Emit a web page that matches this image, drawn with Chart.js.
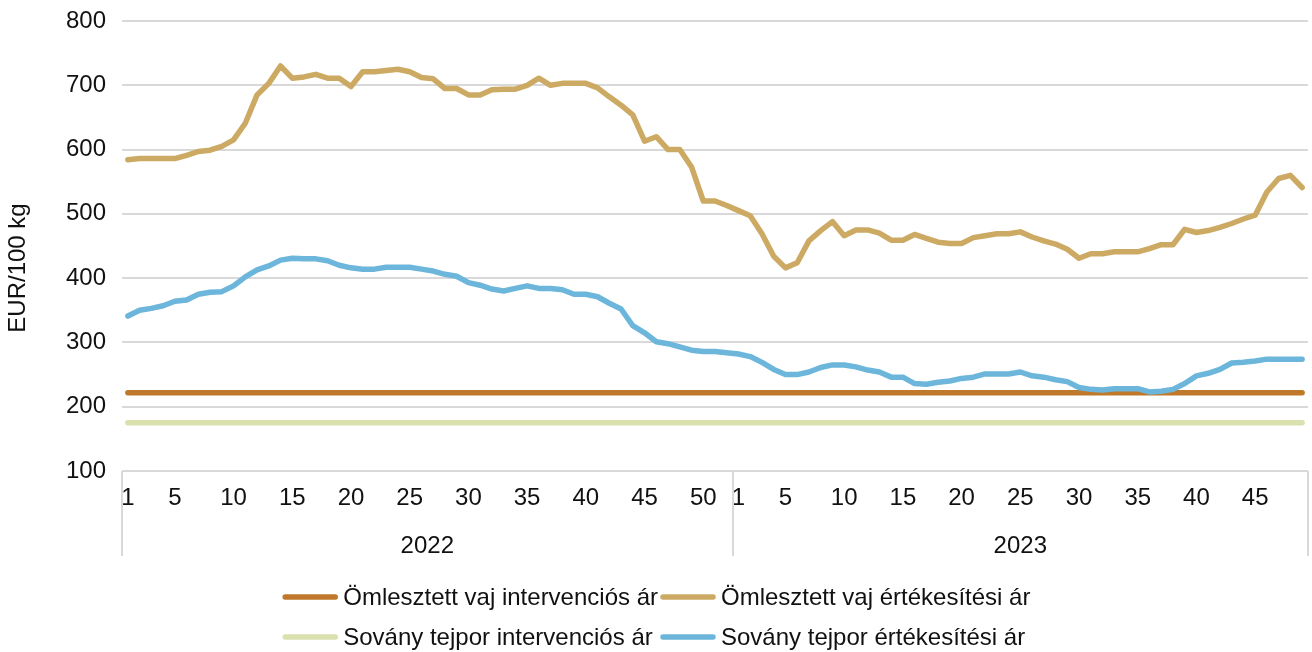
<!DOCTYPE html>
<html>
<head>
<meta charset="utf-8">
<script src="https://cdn.jsdelivr.net/npm/chart.js@4.4.1/dist/chart.umd.min.js"></script>
<style>
  html, body { margin: 0; background: #fff; }
  #wrap { width: 1312px; height: 652px; }
</style>
</head>
<body>
<div id="wrap"><canvas id="chart" width="1312" height="652"></canvas></div>
<script>
// week numbers per year (x axis groups)
const years = ["2022", "2023"];
const weeks2022 = Array.from({ length: 52 }, (_, i) => i + 1);
const weeks2023 = Array.from({ length: 49 }, (_, i) => i + 1);

// EUR/100 kg
const butterSales2022 = [584, 586, 586, 586, 586, 591, 597, 599, 605, 615,
  641, 685, 703, 730, 711, 713, 717, 711, 711, 698,
  721, 721, 723, 725, 721, 712, 710, 695, 695, 685,
  685, 693, 694, 694, 700, 711, 700, 703, 703, 703,
  696, 682, 669, 654, 613, 620, 600, 600, 573, 520,
  520, 513];
const butterSales2023 = [505, 497, 469, 434, 416, 424, 458, 474, 488, 466,
  475, 475, 470, 459, 459, 468, 462, 456, 454, 454,
  463, 466, 469, 469, 472, 464, 458, 453, 445, 431,
  438, 438, 441, 441, 441, 446, 452, 452, 476, 471,
  474, 479, 485, 492, 498, 534, 555, 560, 541];
const smpSales2022 = [341, 350, 353, 357, 364, 366, 375, 378, 379, 388,
  402, 413, 419, 428, 431, 430, 430, 427, 420, 416,
  414, 414, 417, 417, 417, 414, 411, 406, 403, 393,
  389, 383, 380, 384, 388, 384, 384, 382, 375, 375,
  371, 361, 352, 326, 315, 301, 298, 293, 288, 286,
  286, 284];
const smpSales2023 = [282, 278, 269, 258, 250, 250, 254, 261, 265, 265,
  262, 257, 254, 246, 246, 236, 235, 238, 240, 244,
  246, 251, 251, 251, 254, 248, 246, 242, 239, 230,
  227, 226, 228, 228, 228, 223, 224, 227, 236, 248,
  252, 258, 268, 269, 271, 274, 274, 274, 274];
const butterIntervention = 221.75;
const smpIntervention = 175;

const yTicks = [100, 200, 300, 400, 500, 600, 700, 800];

const seriesNames = [
  "Ömlesztett vaj intervenciós ár",
  "Ömlesztett vaj értékesítési ár",
  "Sovány tejpor intervenciós ár",
  "Sovány tejpor értékesítési ár"
];
const seriesColors = ["#c0792a", "#cdaa63", "#dbe0af", "#6cb6dc"];

// build the category axis
const weekNums = weeks2022.concat(weeks2023);
const groupSizes = [weeks2022.length, weeks2023.length];
const labels = weekNums.map((w, i) => (i < weeks2022.length ? "2022-" : "2023-") + w);
const butterSales = butterSales2022.concat(butterSales2023);
const smpSales = smpSales2022.concat(smpSales2023);

const FONT = '"Liberation Sans", Arial, sans-serif';
const FSIZE = 24;
Chart.defaults.font.family = FONT;
Chart.defaults.font.size = FSIZE;
Chart.defaults.color = "#111";

const values = [
  weekNums.map(() => butterIntervention),
  butterSales,
  weekNums.map(() => smpIntervention),
  smpSales
];

const datasets = seriesNames.map((name, i) => ({
  label: name,
  data: values[i],
  borderColor: seriesColors[i],
  backgroundColor: seriesColors[i],
  borderWidth: 5.5,
  borderCapStyle: "round",
  borderJoinStyle: "round",
  pointRadius: 0,
  tension: 0,
  order: seriesNames.length - i   // later series on top, like the original
}));

const decor = {
  id: "decor",
  afterDraw(chart) {
    const { ctx, chartArea: a } = chart;
    const x = chart.scales.x;
    const band = x.getPixelForValue(1) - x.getPixelForValue(0);
    ctx.save();

    // category box lines + year labels
    ctx.strokeStyle = "#d9d9d9";
    ctx.lineWidth = 2;
    const boxBottom = x.bottom;
    let start = 0;
    const edges = [a.left];
    groupSizes.forEach(n => {
      edges.push(x.getPixelForValue(start + n - 1) + band / 2);
      start += n;
    });
    edges.forEach(ex => {
      ctx.beginPath();
      ctx.moveTo(Math.round(ex), a.bottom);
      ctx.lineTo(Math.round(ex), boxBottom);
      ctx.stroke();
    });
    ctx.fillStyle = "#111";
    ctx.font = FSIZE + "px " + FONT;
    ctx.textAlign = "center";
    ctx.textBaseline = "middle";
    years.forEach((yr, i) => {
      ctx.fillText(yr, (edges[i] + edges[i + 1]) / 2, a.bottom + 75);
    });

    // y axis title
    ctx.save();
    ctx.translate(18, (a.top + a.bottom) / 2 + 22);
    ctx.rotate(-Math.PI / 2);
    ctx.fillText("EUR/100 kg", 0, 0);
    ctx.restore();

    // legend: 2 columns x 2 rows
    const sample = 56, gap = 5;
    const textW = Math.max(...seriesNames.map(s => ctx.measureText(s).width));
    const colW = sample + gap + textW + 2;
    const left0 = chart.width / 2 - colW + 4;
    const rowY = [boxBottom + 41, boxBottom + 81];
    ctx.textAlign = "left";
    chart.data.datasets.forEach((ds, i) => {
      const lx = left0 + (i % 2) * colW;
      const ly = rowY[Math.floor(i / 2)];
      ctx.strokeStyle = ds.borderColor;
      ctx.lineWidth = 5.5;
      ctx.lineCap = "round";
      ctx.beginPath();
      ctx.moveTo(lx + 3, ly);
      ctx.lineTo(lx + sample - 3, ly);
      ctx.stroke();
      ctx.fillStyle = "#111";
      ctx.fillText(ds.label, lx + sample + gap, ly + 1);
    });
    ctx.restore();
  }
};

new Chart(document.getElementById("chart"), {
  type: "line",
  data: { labels, datasets },
  options: {
    responsive: false,
    animation: false,
    devicePixelRatio: 1,
    layout: { padding: { top: 21, right: 4, bottom: 96, left: 0 } },
    plugins: { legend: { display: false }, tooltip: { enabled: false } },
    scales: {
      x: {
        offset: true,
        grid: { display: false, drawTicks: false },
        border: { display: false },
        ticks: {
          autoSkip: false,
          maxRotation: 0,
          padding: 13,
          callback: (v, i) => {
            const w = weekNums[i];
            return (w === 1 || w % 5 === 0) ? String(w) : "";
          }
        },
        afterFit: s => { s.height = 85; s.paddingLeft = 0; s.paddingRight = 0; }
      },
      y: {
        min: yTicks[0],
        max: yTicks[yTicks.length - 1],
        afterBuildTicks: s => { s.ticks = yTicks.map(v => ({ value: v })); },
        ticks: { padding: 16 },
        grid: { color: "#d9d9d9", lineWidth: 2, drawTicks: false },
        border: { display: false },
        afterFit: s => { s.width = 122; s.paddingTop = 0; s.paddingBottom = 0; }
      }
    }
  },
  plugins: [decor]
});
</script>
</body>
</html>
